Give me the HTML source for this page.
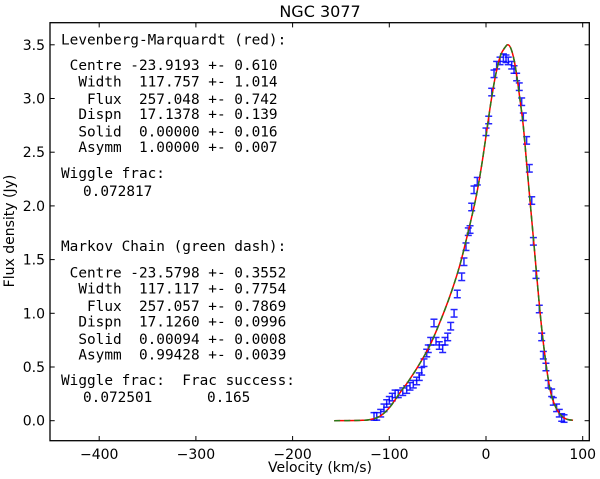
<!DOCTYPE html>
<html><head><meta charset="utf-8"><style>
body{margin:0;background:#fff;}
svg{display:block;font-family:"DejaVu Sans","Liberation Sans",sans-serif;}
.mono{font-family:"DejaVu Sans Mono","Liberation Mono",monospace;font-size:14.4px;white-space:pre;}
</style></head><body>
<svg id="chart" width="600" height="479" viewBox="0 0 600 479">
<rect x="0" y="0" width="600" height="479" fill="#fff"/>
<text x="320" y="17" font-size="16" text-anchor="middle">NGC 3077</text>
<text x="320" y="472" font-size="14" text-anchor="middle">Velocity (km/s)</text>
<text transform="translate(14,231) rotate(-90)" font-size="14" text-anchor="middle">Flux density (Jy)</text>
<g id="ticks"></g>
<g id="plot"></g>
<rect x="50" y="22.7" width="539.3" height="418" fill="none" stroke="#000" stroke-width="1.3"/>
<g class="mono">
<text class="mono" x="61" y="44.5">Levenberg-Marquardt (red):</text>
<text class="mono" x="61" y="70"> Centre -23.9193 +- 0.610</text>
<text class="mono" x="61" y="86.5">  Width  117.757 +- 1.014</text>
<text class="mono" x="61" y="104">   Flux  257.048 +- 0.742</text>
<text class="mono" x="61" y="119">  Dispn  17.1378 +- 0.139</text>
<text class="mono" x="61" y="136.5">  Solid  0.00000 +- 0.016</text>
<text class="mono" x="61" y="152">  Asymm  1.00000 +- 0.007</text>
<text class="mono" x="61" y="178">Wiggle frac:</text>
<text class="mono" x="83" y="196">0.072817</text>
<text class="mono" x="61" y="251">Markov Chain (green dash):</text>
<text class="mono" x="61" y="277.5"> Centre -23.5798 +- 0.3552</text>
<text class="mono" x="61" y="293.5">  Width  117.117 +- 0.7754</text>
<text class="mono" x="61" y="311">   Flux  257.057 +- 0.7869</text>
<text class="mono" x="61" y="326.5">  Dispn  17.1260 +- 0.0996</text>
<text class="mono" x="61" y="344">  Solid  0.00094 +- 0.0008</text>
<text class="mono" x="61" y="359.5">  Asymm  0.99428 +- 0.0039</text>
<text class="mono" x="61" y="385">Wiggle frac:  Frac success:</text>
<text class="mono" x="83" y="402">0.072501</text>
<text class="mono" x="207" y="402">0.165</text>
</g>
</svg>
<script>
const xTicks=[-400,-300,-200,-100,0,100];
const xTickLabels=["\u2212400","\u2212300","\u2212200","\u2212100","0","100"];
const yTicks=[0,0.5,1.0,1.5,2.0,2.5,3.0,3.5];
const yTickLabels=["0.0","0.5","1.0","1.5","2.0","2.5","3.0","3.5"];
const curveV=[-157,-130,-120,-110,-100,-89,-80,-68,-57,-44,-35,-27,-20,-11,-5,0,5,10,15,20,23,26,29,32,35,38.5,42,45.5,50,56,61,66,70,75,80,85,90];
const curveF=[0,0.003,0.01,0.04,0.12,0.26,0.37,0.54,0.72,1.0,1.22,1.45,1.7,2.05,2.35,2.65,2.96,3.22,3.40,3.48,3.50,3.46,3.36,3.2,3.0,2.75,2.4,2.05,1.6,1.0,0.6,0.3,0.17,0.08,0.03,0.01,0.004];
const dataV=[-115.8,-113,-108.9,-105.5,-102.7,-100,-96.9,-94,-90.7,-86.1,-82,-78.6,-75.2,-71.7,-69,-66.5,-64.1,-61.3,-59.7,-57.2,-53.8,-51.7,-48.3,-44.8,-42.4,-39.6,-36.5,-33,-29.7,-25.1,-22.8,-20.7,-18.3,-16.5,-14.8,-12.4,-9,0,2.8,5.9,8.3,11,14.5,18,20.7,23,26.6,29,31.7,34.4,36.9,38.6,42,44.8,47.3,49,51.7,55.1,57.6,59.3,62,64.4,67.9,69.6,73,75.8,78.3,80.7];
const dataF=[0.04,0.04,0.07,0.12,0.16,0.19,0.22,0.25,0.25,0.27,0.29,0.32,0.34,0.37,0.41,0.46,0.54,0.63,0.67,0.74,0.91,0.74,0.70,0.67,0.74,0.78,0.88,1.00,1.18,1.34,1.48,1.62,1.76,1.78,1.99,2.15,2.23,2.69,2.80,3.06,3.23,3.31,3.35,3.38,3.37,3.35,3.31,3.27,3.20,3.11,2.97,2.83,2.61,2.35,2.05,1.67,1.36,1.04,0.78,0.61,0.50,0.34,0.26,0.18,0.12,0.07,0.03,0.02];
const dataErr=0.035;

const NS="http://www.w3.org/2000/svg";
function X(v){return 486+v*0.967;}
function Y(f){return 420.7-f*107.4;}
function mk(tag,attrs,parent){const e=document.createElementNS(NS,tag);for(const k in attrs)e.setAttribute(k,attrs[k]);parent.appendChild(e);return e;}
const tg=document.getElementById('ticks');
xTicks.forEach((v,i)=>{
  const x=X(v);
  const t1=mk('line',{x1:x,x2:x,y1:440.7,y2:436,stroke:'#000','stroke-width':1},tg);
  
  
  const t2=mk('line',{x1:x,x2:x,y1:22.7,y2:27.4,stroke:'#000','stroke-width':1},tg);
  
  
  const l=mk('text',{x:x,y:459,'font-size':14,'text-anchor':'middle'},tg);
  l.textContent=xTickLabels[i];
  
  
});
yTicks.forEach((f,i)=>{
  const y=Y(f);
  const t1=mk('line',{x1:50,x2:54.7,y1:y,y2:y,stroke:'#000','stroke-width':1},tg);
  
  
  const t2=mk('line',{x1:589.3,x2:584.6,y1:y,y2:y,stroke:'#000','stroke-width':1},tg);
  
  
  const l=mk('text',{x:45,y:y+5,'font-size':14,'text-anchor':'end'},tg);
  l.textContent=yTickLabels[i];
  
  
});
const pg=document.getElementById('plot');
dataV.forEach((v,i)=>{
  const x=X(v),y1=Y(dataF[i]-dataErr),y2=Y(dataF[i]+dataErr);
  const g=mk('g',{stroke:'#0000ff','stroke-width':1.5,opacity:0.85},pg);
  
  
  mk('line',{x1:x,x2:x,y1:y1,y2:y2},g);
  mk('line',{x1:x-3.5,x2:x+3.5,y1:y1,y2:y1},g);
  mk('line',{x1:x-3.5,x2:x+3.5,y1:y2,y2:y2},g);
});
function smooth(vs,fs){
  const p=vs.map((v,i)=>[X(v),Y(fs[i])]);
  let d='M'+p[0][0]+','+p[0][1];
  for(let i=0;i<p.length-1;i++){
    const p0=p[Math.max(0,i-1)],p1=p[i],p2=p[i+1],p3=p[Math.min(p.length-1,i+2)];
    const c1=[p1[0]+(p2[0]-p0[0])/6,p1[1]+(p2[1]-p0[1])/6];
    const c2=[p2[0]-(p3[0]-p1[0])/6,p2[1]-(p3[1]-p1[1])/6];
    d+=' C'+c1[0]+','+c1[1]+' '+c2[0]+','+c2[1]+' '+p2[0]+','+p2[1];
  }
  return d;
}
const d=smooth(curveV,curveF);
const red=mk('path',{d:d,fill:'none',stroke:'#ff0000','stroke-width':1.5},pg);


const green=mk('path',{d:d,fill:'none',stroke:'#2a7a1a','stroke-width':1.5,'stroke-dasharray':'6,4'},pg);


</script>
</body></html>
